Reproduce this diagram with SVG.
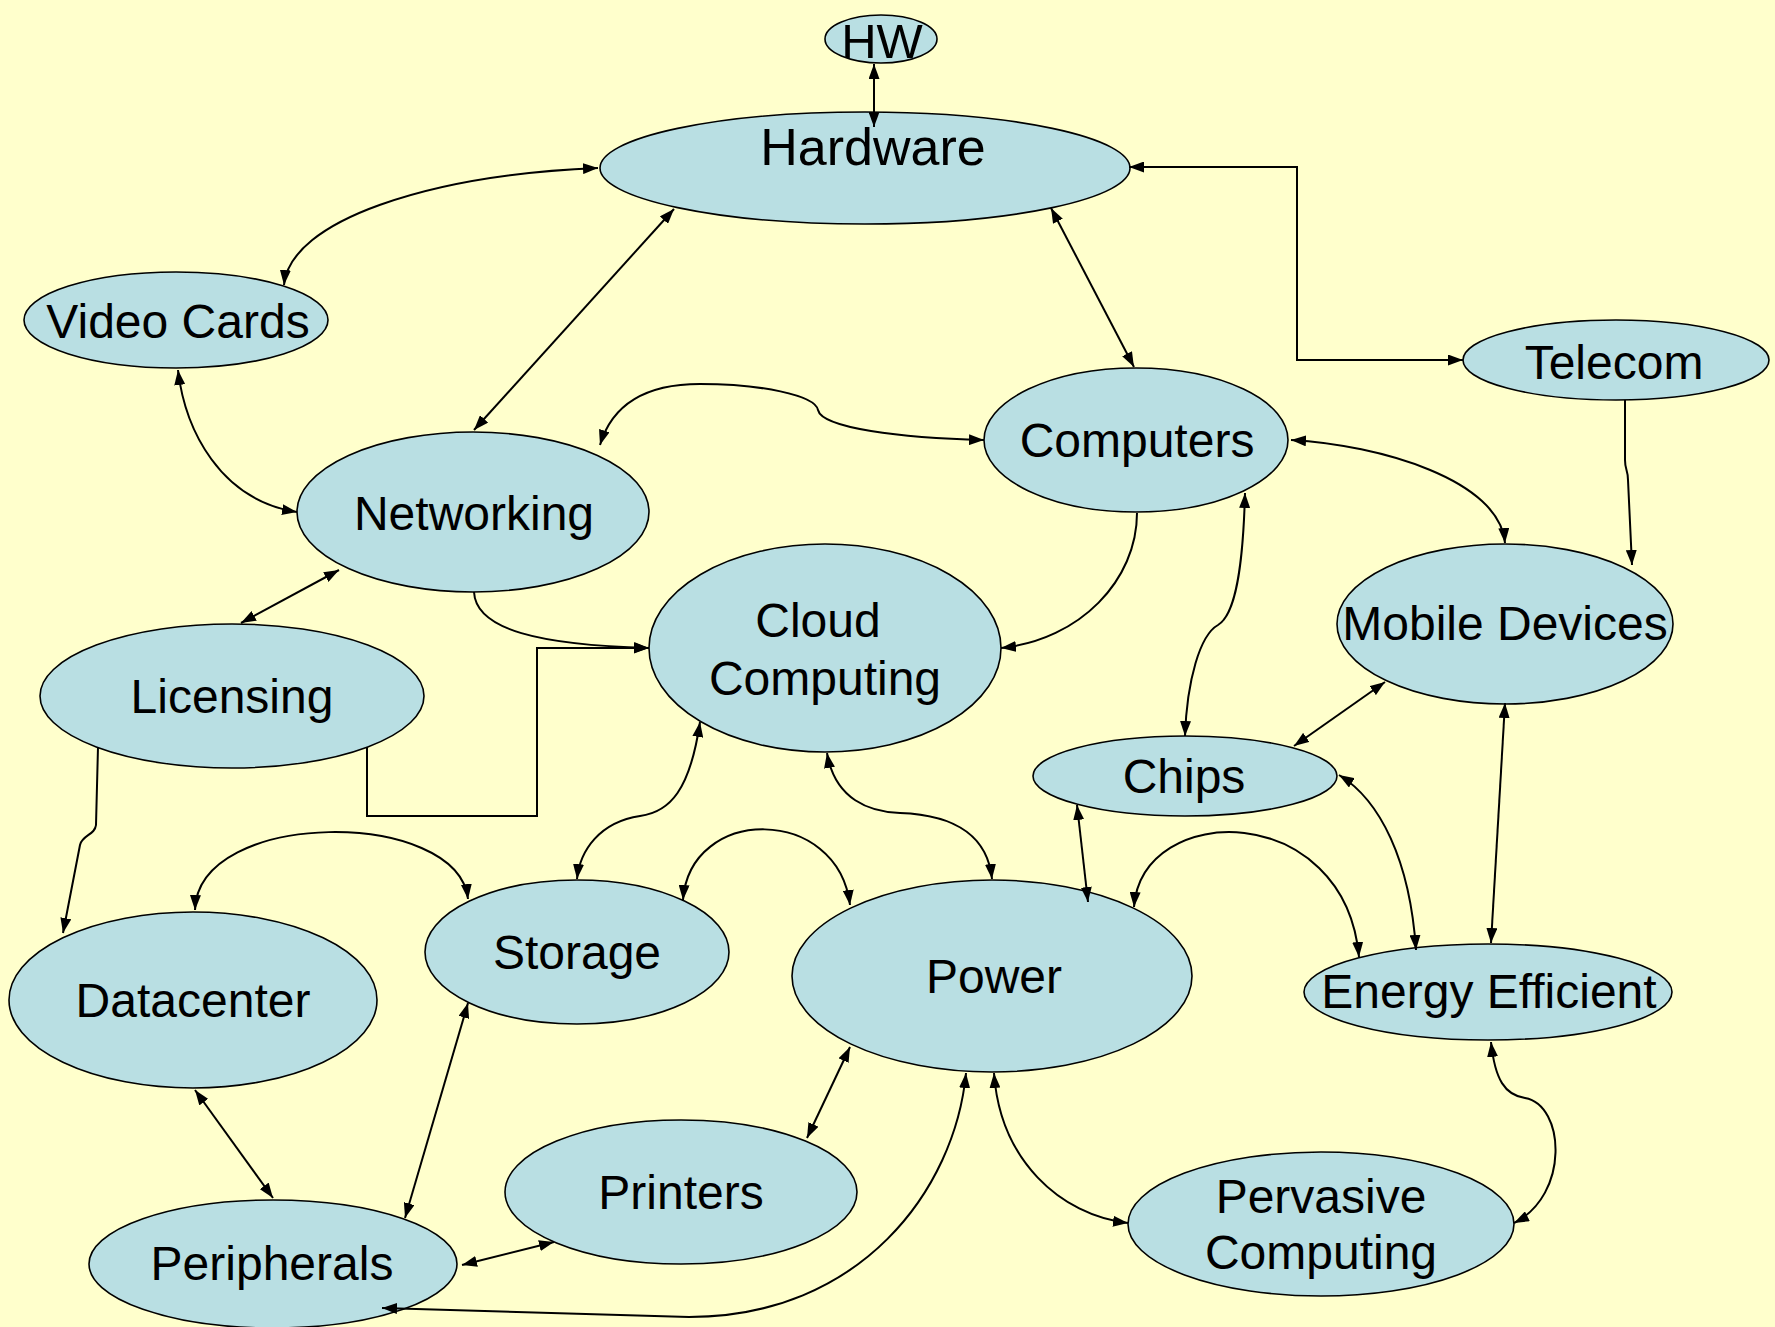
<svg xmlns="http://www.w3.org/2000/svg" width="1775" height="1327" viewBox="0 0 1775 1327">
<style>
.n ellipse{fill:#B9DFE3;stroke:#000;stroke-width:1.6}
.n text{font-family:"Liberation Sans",Arial,sans-serif;font-size:48px;fill:#000;text-anchor:middle}
.e path{fill:none;stroke:#000;stroke-width:2}
.e .b{marker-start:url(#a);marker-end:url(#a)}
.e .s{marker-end:url(#a)}
</style>
<defs>
<marker id="a" viewBox="0 0 15 11" refX="15" refY="5.5" markerWidth="15" markerHeight="11" markerUnits="userSpaceOnUse" orient="auto-start-reverse"><path d="M0,0 L15,5.5 L0,11 z" fill="#000"/></marker>
</defs>
<rect width="1775" height="1327" fill="#FFFFCC"/>
<g id="nodes">
<g id="n-hw" class="n"><ellipse cx="881" cy="39" rx="56" ry="24"/><text x="882" y="58" style="font-size:49px">HW</text></g>
<g id="n-hardware" class="n"><ellipse cx="865" cy="168" rx="265" ry="56"/><text x="873" y="165" style="font-size:52px">Hardware</text></g>
<g id="n-videocards" class="n"><ellipse cx="176" cy="320" rx="152" ry="48"/><text x="178" y="338">Video Cards</text></g>
<g id="n-telecom" class="n"><ellipse cx="1616" cy="360" rx="153" ry="40"/><text x="1614" y="379">Telecom</text></g>
<g id="n-computers" class="n"><ellipse cx="1136" cy="440" rx="152" ry="72"/><text x="1137" y="457">Computers</text></g>
<g id="n-networking" class="n"><ellipse cx="473" cy="512" rx="176" ry="80"/><text x="474" y="530">Networking</text></g>
<g id="n-cloud" class="n"><ellipse cx="825" cy="648" rx="176" ry="104"/><text x="818" y="637">Cloud</text><text x="825" y="695">Computing</text></g>
<g id="n-licensing" class="n"><ellipse cx="232" cy="696" rx="192" ry="72"/><text x="232" y="713">Licensing</text></g>
<g id="n-mobile" class="n"><ellipse cx="1505" cy="624" rx="168" ry="80"/><text x="1505" y="640">Mobile Devices</text></g>
<g id="n-chips" class="n"><ellipse cx="1185" cy="776" rx="152" ry="40"/><text x="1184" y="793">Chips</text></g>
<g id="n-datacenter" class="n"><ellipse cx="193" cy="1000" rx="184" ry="88"/><text x="193" y="1017">Datacenter</text></g>
<g id="n-storage" class="n"><ellipse cx="577" cy="952" rx="152" ry="72"/><text x="577" y="969">Storage</text></g>
<g id="n-power" class="n"><ellipse cx="992" cy="976" rx="200" ry="96"/><text x="994" y="993">Power</text></g>
<g id="n-energy" class="n"><ellipse cx="1488" cy="992" rx="184" ry="48"/><text x="1489" y="1008">Energy Efficient</text></g>
<g id="n-printers" class="n"><ellipse cx="681" cy="1192" rx="176" ry="72"/><text x="681" y="1209">Printers</text></g>
<g id="n-peripherals" class="n"><ellipse cx="273" cy="1264" rx="184" ry="64"/><text x="272" y="1280">Peripherals</text></g>
<g id="n-pervasive" class="n"><ellipse cx="1321" cy="1224" rx="193" ry="72"/><text x="1321" y="1213">Pervasive</text><text x="1321" y="1269">Computing</text></g>
</g>
<g id="connectors" class="e">
<path class="b" d="M874,64 L874,127"/>
<path class="b" d="M598,168 C430,175 290,220 284,285"/>
<path class="b" d="M674,209 L474,430"/>
<path class="b" d="M1051,208 L1134,367"/>
<path class="b" d="M1129,167 L1297,167 L1297,360 L1463,360"/>
<path class="s" d="M1625,400 L1625,460 C1625,470 1628,470 1628,480 L1632,565"/>
<path class="b" d="M600,445 C615,395 660,384 700,384 C760,384 815,395 818,410 C822,428 900,438 984,440"/>
<path class="b" d="M178,370 C185,430 220,500 297,512"/>
<path class="b" d="M339,570 L241,623"/>
<path class="s" d="M474,592 C476,630 540,645 649,648"/>
<path class="s" d="M367,747 L367,816 L537,816 L537,648 L649,648"/>
<path class="s" d="M98,747 L96,825 C95,835 82,835 80,845 L63,933"/>
<path class="s" d="M1137,513 C1137,580 1080,640 1001,648"/>
<path class="b" d="M1291,440 C1380,445 1500,480 1505,543"/>
<path class="b" d="M1245,493 C1243,570 1235,615 1218,625 C1200,635 1187,680 1185,736"/>
<path class="b" d="M1385,682 L1294,746"/>
<path class="b" d="M1505,703 L1491,943"/>
<path class="b" d="M1339,775 C1380,800 1410,860 1416,950"/>
<path class="b" d="M1077,805 L1088,902"/>
<path class="b" d="M1134,907 C1142,800 1345,800 1359,957"/>
<path class="b" d="M700,722 C690,790 670,812 640,816 C600,822 580,850 577,879"/>
<path class="b" d="M827,753 C835,800 870,812 900,813 C960,815 988,840 992,879"/>
<path class="b" d="M195,910 C198,808 458,808 468,899"/>
<path class="b" d="M683,900 C690,805 838,805 850,905"/>
<path class="b" d="M195,1090 L273,1198"/>
<path class="b" d="M468,1003 L405,1218"/>
<path class="b" d="M850,1047 L807,1138"/>
<path class="b" d="M554,1242 L462,1265"/>
<path class="b" d="M966,1073 C955,1190 860,1317 689,1317 L382,1308"/>
<path class="b" d="M994,1073 C1000,1160 1060,1215 1128,1223"/>
<path class="b" d="M1491,1042 C1495,1080 1505,1095 1525,1098 C1565,1105 1570,1195 1514,1223"/>
</g>
</svg>
